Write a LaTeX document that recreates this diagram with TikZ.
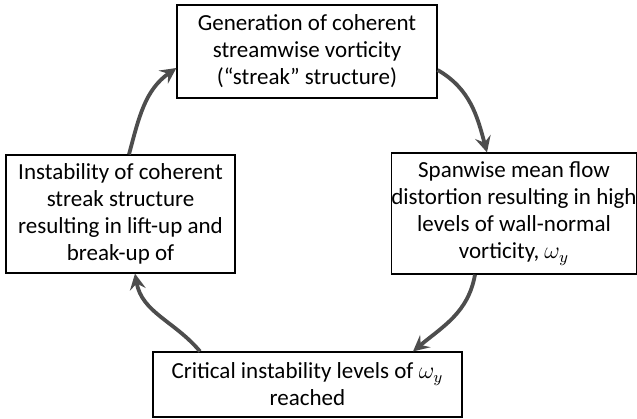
\documentclass[tikz,border=0pt]{standalone}
\usepackage{fontspec}
\setmainfont{Carlito}
\usetikzlibrary{arrows.meta}
\definecolor{cyclegray}{HTML}{4D4D4D}
\tikzset{
	stage/.style={draw, line width=0.6pt, align=center, inner sep=0pt, font=\fontsize{11.5}{13.5}\selectfont},
	cyclearrow/.style={-{Stealth[length=8pt,width=8pt,inset=3pt]}, line width=1.9pt, cyclegray},
}
\begin{document}
\begin{tikzpicture}[x=0.5pt, y=0.5pt]
	\useasboundingbox (0,0) rectangle (637,418);
	%stages of the cycle
	\node[stage, minimum width=130pt, minimum height=46.5pt] (gen) at (307, 366.5){Generation of coherent\\streamwise vorticity\\(“streak” structure)};
	\node[stage, minimum width=122pt, minimum height=60.5pt] (flow) at (514, 204.5){Spanwise mean flow\\distortion resulting in high\\levels of wall-normal\\vorticity, $\omega_y$};
	\node[stage, minimum width=154.5pt, minimum height=32.5pt] (crit) at (307.5, 33.5){Critical instability levels of $\omega_y$\\reached};
	\node[stage, minimum width=114.5pt, minimum height=59pt] (inst) at (120.5, 204){Instability of coherent\\streak structure\\resulting in lift-up and\\break-up of};

	%arrows around
	\draw[cyclearrow] ([yshift=-9.25pt]gen.east) to[out=-30, in=105] ([xshift=-13.5pt]flow.north);
	\draw[cyclearrow] ([xshift=-19.5pt]flow.south) to[out=-100, in=40] ([xshift=52.75pt]crit.north);
	\draw[cyclearrow] ([xshift=-53.75pt]crit.north) to[out=130, in=-80] ([xshift=7.25pt]inst.south);
	\draw[cyclearrow] ([xshift=4.25pt]inst.north) to[out=75, in=-145] ([yshift=-8.25pt]gen.west);
\end{tikzpicture}
\end{document}
